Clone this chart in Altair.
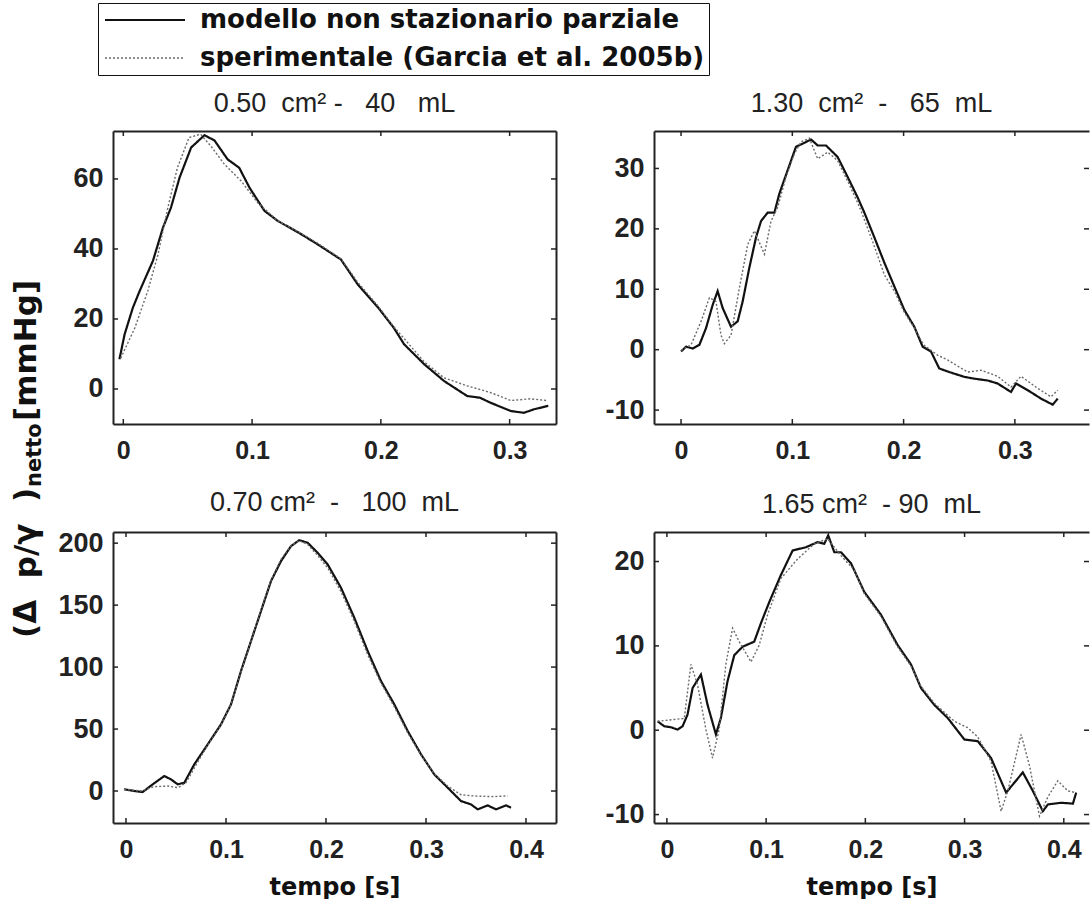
import altair as alt
import pandas as pd

SERIES = ["modello non stazionario parziale", "sperimentale (Garcia et al. 2005b)"]

# ---------- panel 1 : 0.50 cm2 - 40 mL ----------
p1_t_mod = [-0.003, 0.001, 0.0074, 0.0127, 0.023, 0.0308, 0.037, 0.0437, 0.0527, 0.063,
            0.0708, 0.081, 0.090, 0.098, 0.1096, 0.120, 0.136, 0.151, 0.169, 0.182,
            0.198, 0.210, 0.218, 0.2336, 0.249, 0.267, 0.277, 0.285, 0.301, 0.311,
            0.319, 0.330]
p1_y_mod = [8.5, 15.6, 23.2, 28, 36.6, 46.1, 51.8, 60.4, 69, 72.5,
            71, 65.6, 63.2, 57.5, 50.9, 48, 44.7, 41.3, 37, 29.9,
            23.2, 17.5, 12.8, 7.1, 2.3, -2, -2.5, -3.9, -6.3, -6.8,
            -5.8, -4.8]
p1_t_exp = [-0.002, 0.009, 0.019, 0.027, 0.0346, 0.042, 0.051, 0.060, 0.068, 0.0785,
            0.0915, 0.1044, 0.120, 0.136, 0.151, 0.169, 0.182, 0.198, 0.210, 0.2336,
            0.249, 0.267, 0.285, 0.301, 0.316, 0.329]
p1_y_exp = [8.8, 17.5, 28, 38.5, 51.8, 63.2, 71.8, 72.8, 69.4, 64.2,
            59.4, 53.2, 48, 44.9, 41.6, 37.2, 30.5, 23.6, 17.8, 7.8,
            3.2, 0.9, -1, -3.3, -2.8, -3.3]

# ---------- panel 2 : 1.30 cm2 - 65 mL ----------
p2_t_mod = [0, 0.0045, 0.0105, 0.0165, 0.0225, 0.0284, 0.0329, 0.0374, 0.0449, 0.0509,
            0.0554, 0.0614, 0.0674, 0.0719, 0.0779, 0.0839, 0.0883, 0.0958, 0.1033, 0.1093,
            0.1168, 0.1228, 0.1303, 0.1407, 0.1497, 0.1587, 0.1647, 0.1737, 0.1827, 0.1916,
            0.2006, 0.2096, 0.2171, 0.2246, 0.232, 0.241, 0.2546, 0.2636, 0.2756, 0.2845,
            0.2965, 0.301, 0.3115, 0.3235, 0.334, 0.3385]
p2_y_mod = [-0.3, 0.5, 0.2, 0.8, 3.6, 7.4, 9.7, 6.9, 3.8, 4.7,
            8, 13.6, 18.6, 21.3, 22.7, 22.7, 25.8, 29.7, 33.6, 34.1,
            34.8, 33.8, 33.8, 31.9, 28.6, 25.2, 22.7, 18.6, 14.4, 10.5,
            6.6, 3.8, 0.5, -0.3, -3.1, -3.7, -4.5, -4.8, -5.1, -5.6,
            -7, -5.6, -6.7, -8.1, -9.1, -8.1]
p2_t_exp = [0, 0.009, 0.018, 0.0255, 0.0314, 0.0359, 0.0389, 0.0449, 0.0524, 0.0599,
            0.0659, 0.0749, 0.0809, 0.0869, 0.0943, 0.1018, 0.1078, 0.1153, 0.1228, 0.1318,
            0.1407, 0.150, 0.160, 0.172, 0.1827, 0.192, 0.2006, 0.2096, 0.218, 0.2305,
            0.2395, 0.2576, 0.2696, 0.2845, 0.2965, 0.3055, 0.3205, 0.3325, 0.3385]
p2_y_exp = [-0.1, 0.8, 4.7, 8.6, 8, 2.4, 1.0, 2.4, 10.2, 17.4,
            19.7, 15.8, 21.3, 23.6, 28.6, 32.4, 34.4, 35, 31.6, 32.7,
            31.3, 27.8, 23.8, 18.0, 12.4, 9.6, 6.2, 3.6, 0.8, -0.9,
            -1.7, -3.7, -3.4, -4.4, -6.2, -4.4, -6.4, -7.8, -6.7]

# ---------- panel 3 : 0.70 cm2 - 100 mL ----------
p3_t_mod = [-0.002, 0.0083, 0.0167, 0.0267, 0.0383, 0.045, 0.0517, 0.0583, 0.0683, 0.0817,
            0.095, 0.105, 0.115, 0.125, 0.135, 0.145, 0.155, 0.165, 0.1733, 0.1817,
            0.1917, 0.2017, 0.215, 0.2283, 0.2417, 0.255, 0.2683, 0.2817, 0.295, 0.3083,
            0.3217, 0.335, 0.345, 0.3517, 0.3617, 0.37, 0.38, 0.385]
p3_y_mod = [1.4, 0, -0.8, 5.4, 12.1, 9.4, 5.4, 6.7, 21.5, 37.6,
            53.8, 69.9, 96.8, 121, 145.2, 169.4, 185.5, 197.6, 202.4, 200.3,
            192.2, 182.8, 164, 139.8, 112.9, 88.7, 69.9, 48.4, 29.6, 13.4,
            2.7, -8.1, -10.8, -14.8, -11.6, -14.8, -11.6, -13.4]
p3_t_exp = [-0.002, 0.015, 0.028, 0.0417, 0.052, 0.06, 0.07, 0.0817, 0.095, 0.105,
            0.115, 0.125, 0.135, 0.145, 0.155, 0.165, 0.1733, 0.1817, 0.1917, 0.2017,
            0.215, 0.2283, 0.2417, 0.255, 0.2683, 0.2817, 0.295, 0.3083, 0.3217, 0.335,
            0.3483, 0.365, 0.3817]
p3_y_exp = [1.4, 0, 3.5, 4, 2.7, 6.7, 21, 37, 53, 70,
            96, 121, 146, 170, 187, 198, 202, 199, 190, 180,
            161, 137, 110, 87, 68, 47, 29, 14, 4, -3,
            -4, -4.5, -4]

# ---------- panel 4 : 1.65 cm2 - 90 mL ----------
p4_t_mod = [-0.0094, -0.0027, 0.004, 0.0108, 0.0158, 0.0208, 0.0259, 0.0343, 0.041, 0.0494,
            0.0544, 0.0611, 0.0679, 0.0763, 0.088, 0.0948, 0.1032, 0.1149, 0.1267, 0.1402,
            0.1519, 0.1586, 0.1626, 0.1687, 0.1754, 0.1855, 0.1989, 0.2157, 0.2325, 0.246,
            0.2561, 0.2695, 0.283, 0.2998, 0.3133, 0.3267, 0.3419, 0.3587, 0.3688, 0.3789,
            0.384, 0.3974, 0.4092, 0.4125]
p4_y_mod = [1.06, 0.47, 0.35, 0.08, 0.47, 1.85, 5, 6.6, 3.0, -0.5,
            1.45, 5.8, 8.9, 9.9, 10.5, 12.7, 15.2, 18.4, 21.3, 21.7,
            22.3, 22.1, 23.1, 21.1, 21.1, 19.8, 16.4, 13.7, 10.1, 7.8,
            5, 3.0, 1.45, -1.1, -1.3, -3.3, -7.4, -5, -7.2, -9.6,
            -8.8, -8.6, -8.7, -7.4]
p4_t_exp = [-0.0094, 0.0175, 0.0242, 0.0309, 0.0393, 0.046, 0.0527, 0.0594, 0.0662, 0.0729,
            0.0847, 0.0931, 0.1015, 0.1149, 0.1317, 0.1485, 0.162, 0.1754, 0.1888, 0.1989,
            0.2157, 0.2325, 0.246, 0.2561, 0.2695, 0.2897, 0.3031, 0.3133, 0.3267, 0.3368,
            0.3436, 0.357, 0.3654, 0.3755, 0.384, 0.394, 0.4041, 0.4125]
p4_y_exp = [1.06, 1.4, 7.8, 5.4, 0.1, -3.3, 0.1, 7.8, 12.1, 10.5,
            8.1, 10.1, 13.7, 18, 20.3, 22.1, 22.7, 20.7, 19.0, 16.2,
            13.5, 9.9, 7.6, 5.2, 3.2, 1.06, 0.3, -0.8, -3.7, -9.6,
            -7.2, -0.5, -4.2, -10.2, -7.9, -6, -7.2, -7.4]

# tick labels
X_TICKS_A = [0, 0.1, 0.2, 0.3]
X_TICKS_B = [0, 0.1, 0.2, 0.3, 0.4]
P1_Y_TICKS = [0, 20, 40, 60]
P2_Y_TICKS = [-10, 0, 10, 20, 30]
P3_Y_TICKS = [0, 50, 100, 150, 200]
P4_Y_TICKS = [-10, 0, 10, 20]

NB = "\u00a0"
TITLES = [
    "0.50" + NB * 2 + "cm²" + NB + "-" + NB * 3 + "40" + NB * 3 + "mL",
    "1.30" + NB * 2 + "cm²" + NB * 2 + "-" + NB * 3 + "65" + NB * 2 + "mL",
    "0.70" + NB + "cm²" + NB * 2 + "-" + NB * 3 + "100" + NB * 2 + "mL",
    "1.65" + NB + "cm²" + NB * 2 + "-" + NB + "90" + NB * 2 + "mL",
]
X_TITLE = "tempo [s]"
Y_TITLE_PARTS = ["(Δ" + NB * 2 + "p/γ" + NB * 2 + ")", "netto", NB + "[mmHg]"]

FRAME = "#222222"


def panel(title, t_mod, y_mod, t_exp, y_exp, xdom, ydom, xticks, yticks,
          w, h, xtitle, right_border, extra=()):
    df = pd.DataFrame({
        "t": t_mod + t_exp,
        "p": y_mod + y_exp,
        "serie": [SERIES[0]] * len(t_mod) + [SERIES[1]] * len(t_exp),
    })
    xs = alt.Scale(domain=xdom, nice=False, zero=False)
    ys = alt.Scale(domain=ydom, nice=False, zero=False)
    xaxis = alt.Axis(orient="bottom", values=xticks, labelExpr="'' + datum.value",
                     title=xtitle, labelFlush=False, labelOverlap=False,
                     labelFontSize=25, labelPadding=14)
    yaxis = alt.Axis(orient="left", values=yticks, labelExpr="'' + datum.value", title=None,
                     labelFlush=False, labelOverlap=False, labelFontSize=27, labelPadding=10)
    lines = alt.Chart(df).mark_line(clip=True).encode(
        x=alt.X("t:Q", scale=xs, axis=xaxis),
        y=alt.Y("p:Q", scale=ys, axis=yaxis),
        color=alt.Color("serie:N", scale=alt.Scale(domain=SERIES, range=["#111111", "#6a6a6a"]),
                        title=None),
        strokeDash=alt.StrokeDash("serie:N", scale=alt.Scale(domain=SERIES, range=[[1, 0], [2, 2]]),
                                  title=None),
        strokeWidth=alt.StrokeWidth("serie:N", scale=alt.Scale(domain=SERIES, range=[2.2, 1.4]),
                                    title=None),
    )
    xt = pd.DataFrame({"v": xticks})
    yt = pd.DataFrame({"v": yticks})
    bottom_ticks = alt.Chart(xt).mark_rule(color=FRAME, strokeWidth=1.5).encode(
        x=alt.X("v:Q", scale=xs, axis=None), y=alt.value(h), y2=alt.value(h - 5))
    top_ticks = alt.Chart(xt).mark_rule(color=FRAME, strokeWidth=1.5).encode(
        x=alt.X("v:Q", scale=xs,
                axis=alt.Axis(orient="top", labels=False, ticks=False, domain=True, title=None)),
        y=alt.value(0), y2=alt.value(5))
    left_ticks = alt.Chart(yt).mark_rule(color=FRAME, strokeWidth=1.5).encode(
        y=alt.Y("v:Q", scale=ys, axis=None), x=alt.value(0), x2=alt.value(5))
    raxis = alt.Axis(orient="right", labels=False, ticks=False, domain=right_border, title=None)
    right_ticks = alt.Chart(yt).mark_rule(color=FRAME, strokeWidth=1.5).encode(
        y=alt.Y("v:Q", scale=ys, axis=raxis), x=alt.value(w), x2=alt.value(w - 5))
    return alt.layer(lines, bottom_ticks, top_ticks, left_ticks, right_ticks, *extra).resolve_axis(
        x="independent", y="independent"
    ).properties(
        width=w, height=h,
        title=alt.TitleParams(text=title, font="Liberation Sans", fontSize=27, fontWeight="normal",
                              color="#222222", anchor="middle", baseline="top", offset=12,
                              frame="group"),
    )


# shared y-axis title (placed from the top-left panel, below its top edge),
# written in three pieces so that "netto" sits as a subscript
one = alt.Data(values=[{"k": 1}])
ytitle_a = alt.Chart(one).mark_text(text=Y_TITLE_PARTS[0], angle=270, align="left",
                                    baseline="middle", font="DejaVu Sans", fontSize=31,
                                    fontWeight="bold", color="#111111").encode(
    x=alt.value(-86), y=alt.value(507))
ytitle_b = alt.Chart(one).mark_text(text=Y_TITLE_PARTS[1], angle=270, align="left",
                                    baseline="middle", font="DejaVu Sans", fontSize=21,
                                    fontWeight="bold", color="#111111").encode(
    x=alt.value(-78), y=alt.value(356))
ytitle_c = alt.Chart(one).mark_text(text=Y_TITLE_PARTS[2], angle=270, align="left",
                                    baseline="middle", font="DejaVu Sans", fontSize=31,
                                    fontWeight="bold", color="#111111").encode(
    x=alt.value(-86), y=alt.value(290))

W_L, W_R = 443, 435
H_T, H_B = 293, 291

p1 = panel(TITLES[0], p1_t_mod, p1_y_mod, p1_t_exp, p1_y_exp, [-0.008, 0.336], [-10, 73.7],
           X_TICKS_A, P1_Y_TICKS, W_L, H_T, None, True, extra=(ytitle_a, ytitle_b, ytitle_c))
p2 = panel(TITLES[1], p2_t_mod, p2_y_mod, p2_t_exp, p2_y_exp, [-0.0243, 0.3666], [-12.3, 36.2],
           X_TICKS_A, P2_Y_TICKS, W_R, H_T, None, False)
p3 = panel(TITLES[2], p3_t_mod, p3_y_mod, p3_t_exp, p3_y_exp, [-0.013, 0.43], [-25.8, 209],
           X_TICKS_B, P3_Y_TICKS, W_L, H_B, X_TITLE, True)
p4 = panel(TITLES[3], p4_t_mod, p4_y_mod, p4_t_exp, p4_y_exp, [-0.013, 0.4254], [-11, 23.5],
           X_TICKS_B, P4_Y_TICKS, W_R, H_B, X_TITLE, False)

chart = alt.concat(
    p1, p2, p3, p4, columns=2, spacing={"row": 108, "column": 98}, bounds="flush"
).properties(
    padding={"left": 11, "top": 2, "right": 0, "bottom": 0}, background="white"
).configure_view(stroke=None).configure_axis(
    grid=False, ticks=False, domain=True, domainColor=FRAME, domainWidth=2,
    labelFont="Liberation Sans", labelFontWeight="bold", labelColor="#222222",
    titleFont="DejaVu Sans", titleFontSize=24, titleFontWeight="bold",
    titleColor="#111111", titlePadding=13,
).configure_legend(
    orient="none", legendX=-15, legendY=-128, strokeColor="#111111", fillColor="white",
    padding=4, labelFont="DejaVu Sans", labelFontSize=26, labelFontWeight="bold",
    labelColor="#111111", labelLimit=0, symbolType="M-1,0H7", symbolSize=400,
    labelOffset=72, rowPadding=12,
)

chart.save("out.html", embed_options={"renderer": "svg", "actions": False})
